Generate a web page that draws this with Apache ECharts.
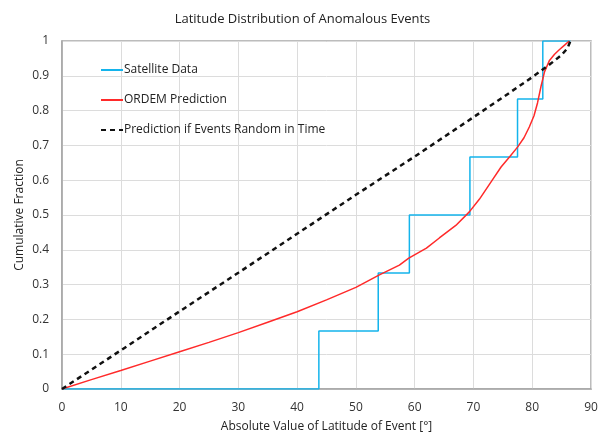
<!DOCTYPE html>
<html><head><meta charset="utf-8">
<script src="https://cdn.jsdelivr.net/npm/echarts@6/dist/echarts.min.js"></script>
<style>html,body{margin:0;padding:0;background:#fff}#c{width:605px;height:437px}</style>
</head><body><div id="c"></div>
<script>
const title = "Latitude Distribution of Anomalous Events";
const xName = "Absolute Value of Latitude of Event [°]";
const yName = "Cumulative Fraction";
const seriesNames = ["Satellite Data", "ORDEM Prediction", "Prediction if Events Random in Time"];

// Satellite step data (step at end)
const satX = [0, 43.7, 53.8, 59.1, 69.4, 77.5, 81.8, 86.5];
const satY = [0, 0.1667, 0.3333, 0.5, 0.6667, 0.8333, 1, 1];

// ORDEM prediction
const ordX = [0, 5, 10, 15, 20, 25, 30, 35, 40, 45, 50, 54, 57.4, 59, 62, 64.2, 67, 69.3, 71, 73.2, 74.7, 76.2, 77.5, 78.6, 79.5, 80.3, 80.9, 81.5, 82.1, 82.9, 83.8, 84.6, 85.5, 86.3];
const ordY = [0, 0.027, 0.053, 0.08, 0.107, 0.134, 0.162, 0.192, 0.222, 0.256, 0.292, 0.328, 0.356, 0.376, 0.405, 0.434, 0.47, 0.509, 0.545, 0.60, 0.638, 0.668, 0.695, 0.722, 0.753, 0.785, 0.822, 0.870, 0.912, 0.943, 0.962, 0.975, 0.988, 1];

// Random-in-time prediction
const rndX = [0, 10, 20, 30, 40, 50, 60, 70, 75, 80, 83, 85, 86, 86.5];
const rndY = [0, 0.111, 0.223, 0.334, 0.446, 0.558, 0.668, 0.781, 0.838, 0.896, 0.933, 0.960, 0.979, 1];

const xTicks = [0, 90, 10];
const yTicks = [0, 1, 0.1];

const zip = (a, b) => a.map((v, i) => [v, b[i]]);
const font = "'Open Sans', 'Liberation Sans', sans-serif";

const chart = echarts.init(document.getElementById('c'), null, {renderer: 'canvas'});
chart.setOption({
  animation: false,
  textStyle: {fontFamily: font},
  title: {text: title, left: 'center', top: 8,
    textStyle: {fontSize: 13, fontWeight: 'normal', color: '#222', fontFamily: font}},
  grid: {left: 62, right: 14, top: 41, bottom: 48, show: true, borderColor: '#a6a6a6', borderWidth: 1.5,
    containLabel: false, outerBoundsMode: 'none'},
  legend: {
    orient: 'vertical', left: 95, top: 59, itemGap: 18, itemWidth: 22, itemHeight: 14,
    itemStyle: {opacity: 0},
    textStyle: {fontSize: 12, color: '#222', fontFamily: font, padding: [0, 0, 0, -4]},
    data: seriesNames
  },
  xAxis: {
    type: 'value', min: xTicks[0], max: xTicks[1], interval: xTicks[2],
    name: xName, nameLocation: 'middle', nameGap: 32, nameMoveOverlap: false,
    nameTextStyle: {fontSize: 12, color: '#222'},
    axisLine: {show: true, lineStyle: {color: '#a6a6a6', width: 1.5}},
    axisTick: {show: false},
    axisLabel: {fontSize: 12, color: '#333', margin: 13},
    splitLine: {show: true, lineStyle: {color: '#dcdcdc', width: 1}}
  },
  yAxis: {
    type: 'value', min: yTicks[0], max: yTicks[1], interval: yTicks[2],
    name: yName, nameLocation: 'middle', nameGap: 36, nameMoveOverlap: false,
    nameTextStyle: {fontSize: 12, color: '#222'},
    axisLine: {show: true, lineStyle: {color: '#a6a6a6', width: 1.5}},
    axisTick: {show: false},
    axisLabel: {fontSize: 12, color: '#333', margin: 13,
      formatter: v => String(Math.round(v * 10) / 10)},
    splitLine: {show: true, lineStyle: {color: '#dcdcdc', width: 1}}
  },
  series: [
    {name: seriesNames[0], type: 'line', step: 'end', data: zip(satX, satY),
      showSymbol: false, symbol: 'none', lineStyle: {color: '#14b4ec', width: 1.5}, itemStyle: {color: '#14b4ec'}},
    {name: seriesNames[1], type: 'line', smooth: false, data: zip(ordX, ordY),
      showSymbol: false, symbol: 'none', lineStyle: {color: '#ff2a2a', width: 1.5}, itemStyle: {color: '#ff2a2a'}},
    {name: seriesNames[2], type: 'line', smooth: false, data: zip(rndX, rndY),
      showSymbol: false, symbol: 'none', lineStyle: {color: '#111', width: 2.5, type: [5, 4]}, itemStyle: {color: '#111'}}
  ]
});
</script></body></html>
